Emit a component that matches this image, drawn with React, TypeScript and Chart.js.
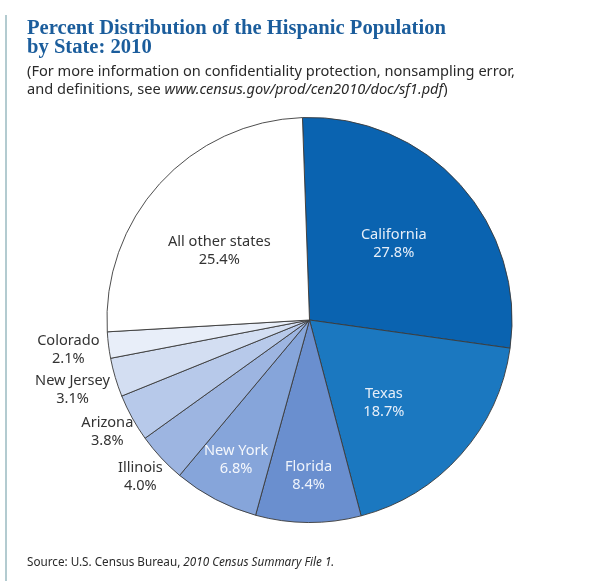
import React, { useEffect, useRef } from "react";
import { Chart, registerables } from "chart.js";

Chart.register(...registerables);

const states = [
  "California",
  "Texas",
  "Florida",
  "New York",
  "Illinois",
  "Arizona",
  "New Jersey",
  "Colorado",
  "All other states",
];
const percents = [27.8, 18.7, 8.4, 6.8, 4.0, 3.8, 3.1, 2.1, 25.4];
const percentLabels = ["27.8%", "18.7%", "8.4%", "6.8%", "4.0%", "3.8%", "3.1%", "2.1%", "25.4%"];

const sliceColors = [
  "#0a63b0",
  "#1b78c0",
  "#6a8fcf",
  "#86a5da",
  "#9db5e1",
  "#b7c9ea",
  "#d3def2",
  "#e8eef9",
  "#ffffff",
];
const labelColors = ["#e6eef8", "#e6eef8", "#eef3fb", "#f4f7fc", "#333333", "#333333", "#333333", "#333333", "#333333"];
const labelRadiusFactor = [0.56, 0.55, 0.77, 0.78, 1.14, 1.14, 1.22, 1.2, 0.56];
const labelAngleShift = [0, 6.5, 0, 0, 0, 0, 0, 0, -5];

const labelPlugin = {
  id: "sliceLabels",
  afterDatasetsDraw(chart: any) {
    const ctx = chart.ctx;
    const meta = chart.getDatasetMeta(0);
    ctx.save();
    ctx.font = "14.6px 'Noto Sans', 'DejaVu Sans', sans-serif";
    ctx.textAlign = "center";
    ctx.textBaseline = "middle";
    meta.data.forEach((arc: any, i: number) => {
      const p = arc.getProps(["x", "y", "startAngle", "endAngle", "outerRadius"], true);
      const mid = (p.startAngle + p.endAngle) / 2 + (labelAngleShift[i] * Math.PI) / 180;
      const r = p.outerRadius * labelRadiusFactor[i];
      const cx = p.x + Math.cos(mid) * r;
      const cy = p.y + Math.sin(mid) * r;
      ctx.fillStyle = labelColors[i];
      ctx.fillText(states[i], cx, cy - 9);
      ctx.fillText(percentLabels[i], cx, cy + 9);
    });
    ctx.restore();
  },
};

export default function App() {
  const ref = useRef<HTMLCanvasElement | null>(null);
  useEffect(() => {
    if (!ref.current) return;
    const chart = new Chart(ref.current, {
      type: "pie",
      data: {
        labels: states,
        datasets: [
          {
            data: percents,
            backgroundColor: sliceColors,
            borderColor: "#3a3a3a",
            borderWidth: 0.9,
          },
        ],
      },
      options: {
        animation: false,
        responsive: false,
        rotation: -2,
        layout: { padding: { left: 106, right: 79, top: 117, bottom: 58 } },
        plugins: {
          legend: { display: false },
          tooltip: { enabled: false },
        },
      },
      plugins: [labelPlugin],
    });
    return () => chart.destroy();
  }, []);

  return (
    <div
      style={{
        position: "fixed",
        left: 0,
        top: 0,
        width: 592,
        height: 581,
        background: "#ffffff",
        overflow: "hidden",
      }}
    >
      <div
        style={{
          position: "absolute",
          left: 5,
          top: 15,
          width: 2,
          height: 566,
          background: "#b3cbd0",
        }}
      />
      <canvas ref={ref} width={592} height={581} style={{ position: "absolute", left: 0, top: 0 }} />
      <div
        style={{
          position: "absolute",
          left: 27,
          top: 18,
          font: "bold 20.6px 'Liberation Serif', serif",
          lineHeight: "19px",
          color: "#1b5d9c",
          whiteSpace: "nowrap",
        }}
      >
        Percent Distribution of the Hispanic Population
        <br />
        by State: 2010
      </div>
      <div
        style={{
          position: "absolute",
          left: 27,
          top: 61,
          font: "14.6px 'Noto Sans', sans-serif",
          lineHeight: "18px",
          color: "#2a2a2a",
          whiteSpace: "nowrap",
        }}
      >
        (For more information on confidentiality protection, nonsampling error,
        <br />
        and definitions, see <i>www.census.gov/prod/cen2010/doc/sf1.pdf</i>)
      </div>
      <div
        style={{
          position: "absolute",
          left: 27,
          top: 552,
          font: "11.7px 'Noto Sans', sans-serif",
          lineHeight: "18px",
          color: "#2a2a2a",
          whiteSpace: "nowrap",
        }}
      >
        Source: U.S. Census Bureau, <i>2010 Census Summary File 1.</i>
      </div>
    </div>
  );
}
